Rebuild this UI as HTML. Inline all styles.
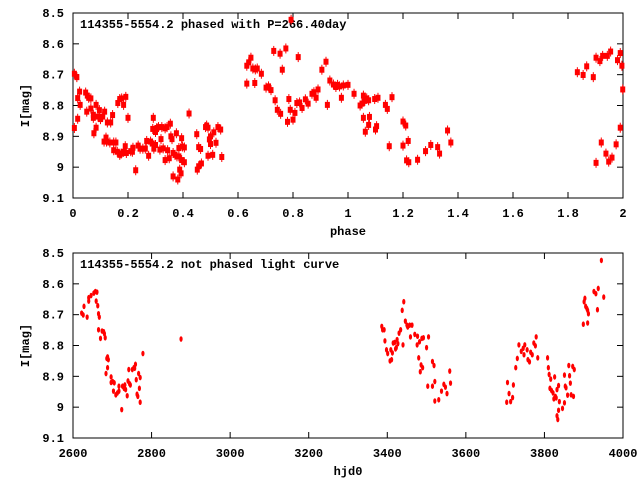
<!DOCTYPE html>
<html><head><meta charset="utf-8"><style>
body{margin:0;background:#fff}
svg text{font-family:"Liberation Mono","DejaVu Sans Mono",monospace;font-weight:bold;font-size:12px;fill:#000}
</style></head><body>
<svg id="c" width="640" height="480" xmlns="http://www.w3.org/2000/svg"></svg>
<script>
const phaseX=[0.005,0.005,0.014,0.017,0.017,0.024,0.026,0.046,0.05,0.052,0.057,0.065,0.065,0.074,0.074,0.076,0.084,0.084,0.091,0.096,0.1,0.108,0.115,0.113,0.12,0.122,0.125,0.137,0.134,0.148,0.144,0.148,0.156,0.163,0.161,0.17,0.17,0.177,0.175,0.184,0.184,0.19,0.192,0.194,0.2,0.21,0.216,0.218,0.228,0.237,0.244,0.254,0.263,0.268,0.275,0.282,0.288,0.292,0.29,0.294,0.3,0.3,0.305,0.311,0.316,0.32,0.323,0.328,0.335,0.335,0.342,0.344,0.35,0.354,0.356,0.36,0.364,0.364,0.371,0.376,0.378,0.381,0.385,0.385,0.388,0.393,0.395,0.395,0.398,0.405,0.405,0.422,0.45,0.452,0.457,0.457,0.464,0.467,0.482,0.486,0.491,0.491,0.496,0.5,0.5,0.508,0.512,0.52,0.527,0.537,0.541,
0.632,0.632,0.639,0.647,0.654,0.661,0.663,0.67,0.685,0.702,0.711,0.72,0.73,0.735,0.743,0.753,0.755,0.761,0.774,0.78,0.785,0.793,0.79,0.8,0.807,0.819,0.814,0.824,0.833,0.845,0.855,0.869,0.876,0.884,0.891,0.905,0.92,0.925,0.934,0.947,0.956,0.962,0.969,0.976,0.983,1.0,1.022,1.044,1.051,1.056,1.056,1.061,1.063,1.068,1.075,1.075,1.078,1.097,1.1,1.104,1.109,1.136,1.143,1.15,1.16,1.2,1.2,1.21,1.213,1.219,1.221,1.253,1.282,1.301,1.326,1.333,1.362,1.374,
1.834,1.855,1.868,1.892,1.902,1.902,1.916,1.921,1.926,1.938,1.943,1.948,1.955,1.96,1.975,1.98,1.99,1.99,1.996,1.999];
const phaseMag=[8.873,8.697,8.708,8.776,8.843,8.755,8.798,8.758,8.82,8.768,8.775,8.81,8.777,8.83,8.84,8.89,8.798,8.872,8.836,8.815,8.844,8.836,8.82,8.917,8.904,8.917,8.855,8.855,8.92,8.92,8.831,8.945,8.92,8.792,8.95,8.779,8.96,8.777,8.956,8.798,8.95,8.932,8.772,8.954,8.84,8.948,8.95,8.937,9.01,8.93,8.94,8.94,8.94,8.915,8.963,8.917,8.923,8.84,8.876,8.94,8.928,8.886,8.873,8.87,8.943,8.909,8.87,8.939,8.874,8.977,8.87,8.945,8.971,8.859,8.9,8.909,9.03,8.954,8.96,8.89,8.965,9.04,8.965,8.938,9.008,9.02,8.906,8.977,8.933,8.984,8.936,8.826,8.893,9.008,8.997,8.935,8.941,8.988,8.87,8.865,8.872,8.963,8.91,8.9,8.925,8.96,8.887,8.921,8.87,8.878,8.967,
8.729,8.671,8.66,8.645,8.68,8.727,8.683,8.68,8.697,8.742,8.738,8.75,8.623,8.783,8.814,8.632,8.827,8.684,8.615,8.853,8.779,8.522,8.814,8.846,8.824,8.643,8.792,8.79,8.808,8.78,8.794,8.762,8.757,8.775,8.748,8.684,8.658,8.798,8.719,8.732,8.74,8.733,8.738,8.775,8.735,8.733,8.762,8.8,8.794,8.768,8.84,8.785,8.885,8.777,8.783,8.863,8.837,8.779,8.878,8.867,8.775,8.798,8.811,8.932,8.773,8.852,8.93,8.865,8.978,8.915,8.984,8.976,8.948,8.928,8.935,8.956,8.881,8.92,
8.692,8.701,8.673,8.708,8.645,8.986,8.656,8.92,8.639,8.956,8.639,8.982,8.625,8.969,8.926,8.653,8.872,8.63,8.671,8.748];
const hjd=[2622,2626,2628,2636,2640,2640,2646,2653,2657,2659,2661,2663,2665,2667,2665,2670,2674,2678,2682,2680,2684,2686,2688,2688,2690,2697,2697,2701,2703,2705,2709,2713,2717,2717,2724,2726,2730,2732,2734,2738,2740,2742,2744,2746,2751,2755,2757,2759,2761,2763,2765,2767,2769,2771,2771,2778,2875,
3386,3388,3392,3394,3398,3401,3407,3409,3411,3413,3415,3419,3421,3423,3425,3427,3430,3434,3438,3440,3442,3446,3450,3452,3457,3459,3463,3470,3476,3477,3480,3482,3484,3486,3488,3490,3492,3500,3503,3505,3515,3515,3521,3519,3521,3531,3538,3544,3548,3552,3559,3561,
3704,3706,3710,3714,3719,3721,3727,3731,3735,3741,3746,3748,3750,3756,3758,3762,3765,3769,3773,3777,3779,3783,3808,3810,3812,3814,3816,3818,3822,3824,3826,3828,3830,3832,3832,3834,3836,3836,3838,3846,3851,3851,3853,3855,3859,3862,3864,3866,3868,3872,3874,3876,3899,3901,3903,3905,3908,3910,3912,3910,3926,3931,3935,3937,3945,3951];
const hjdMag=[8.695,8.701,8.673,8.708,8.645,8.656,8.638,8.63,8.625,8.656,8.627,8.671,8.697,8.708,8.749,8.777,8.753,8.755,8.775,8.762,8.891,8.842,8.837,8.872,8.846,8.902,8.92,8.917,8.948,8.921,8.96,8.954,8.948,8.932,9.008,8.932,8.939,8.928,8.943,8.963,8.915,8.878,8.924,8.928,8.878,8.872,8.874,8.861,8.911,8.958,8.965,8.891,8.939,8.904,8.984,8.826,8.779,
8.738,8.749,8.749,8.785,8.814,8.826,8.85,8.814,8.846,8.824,8.792,8.79,8.811,8.807,8.781,8.794,8.76,8.749,8.686,8.798,8.658,8.721,8.734,8.74,8.734,8.772,8.734,8.764,8.798,8.77,8.84,8.788,8.885,8.863,8.777,8.872,8.775,8.807,8.932,8.772,8.852,8.932,8.98,8.865,8.917,8.976,8.948,8.926,8.935,8.956,8.883,8.922,
8.984,8.92,8.956,8.982,8.969,8.928,8.872,8.842,8.798,8.819,8.809,8.83,8.798,8.814,8.846,8.853,8.822,8.83,8.792,8.801,8.772,8.84,8.84,8.872,8.894,8.939,8.909,8.946,8.954,8.973,8.902,8.965,8.97,9.028,8.943,9.04,9.01,8.93,8.982,9.004,8.896,8.986,8.932,8.937,8.961,8.865,8.898,8.922,8.96,8.868,8.965,8.878,8.731,8.658,8.647,8.673,8.68,8.686,8.697,8.727,8.625,8.632,8.684,8.615,8.524,8.643];
const yTicks=["8.5","8.6","8.7","8.8","8.9","9","9.1"];
const phaseTicks=["0","0.2","0.4","0.6","0.8","1","1.2","1.4","1.6","1.8","2"];
const hjdTicks=["2600","2800","3000","3200","3400","3600","3800","4000"];

const svg=document.getElementById('c');
const NS="http://www.w3.org/2000/svg";
function mk(tag,attrs,parent){const e=document.createElementNS(NS,tag);for(const k in attrs)e.setAttribute(k,attrs[k]);(parent||svg).appendChild(e);return e;}

function panel(cfg){
  const {L,R,T,B,x0,x1,xt,title,xtitle,xs,ys,marker,pname}=cfg;
  const g=mk('g',{});
  
  
  const sx=v=>L+(v-x0)/(x1-x0)*(R-L);
  const sy=v=>T+(v-8.5)/0.6*(B-T);
  const fr=mk('rect',{x:L,y:T,width:R-L,height:B-T,fill:'none',stroke:'#000','stroke-width':1},g);
  
  
  yTicks.forEach(t=>{const v=parseFloat(t),y=sy(v);
    mk('line',{x1:L,x2:L+6,y1:y,y2:y,stroke:'#000'},g);mk('line',{x1:R,x2:R-6,y1:y,y2:y,stroke:'#000'},g);
    const tx=mk('text',{x:L-9,y:y+4,'text-anchor':'end'},g);tx.textContent=t;
    
    });
  xt.forEach(t=>{const v=parseFloat(t),x=sx(v);
    mk('line',{x1:x,x2:x,y1:B,y2:B-6,stroke:'#000'},g);mk('line',{x1:x,x2:x,y1:T,y2:T+6,stroke:'#000'},g);
    const tx=mk('text',{x:x,y:B+19,'text-anchor':'middle'},g);tx.textContent=t;
    
    });
  const ti=mk('text',{x:L+7,y:T+15},g);ti.textContent=title;
  
  
  const xl=mk('text',{x:(L+R)/2,y:B+37,'text-anchor':'middle'},g);xl.textContent=xtitle;
  
  
  const cy=(T+B)/2;
  const yl=mk('text',{x:29,y:cy,'text-anchor':'middle',transform:`rotate(-90 29 ${cy})`},g);yl.textContent='I[mag]';
  
  
  xs.forEach((v,i)=>{const x=sx(v),y=sy(ys[i]);let m;
    if(marker==='sq'){mk('line',{x1:x,x2:x,y1:y-5,y2:y+5,stroke:'#f00'},g);m=mk('rect',{x:x-2.5,y:y-3,width:5,height:6,fill:'#f00'},g);}
    else{m=mk('ellipse',{cx:x,cy:y,rx:1.6,ry:2.8,fill:'#f00'},g);}
    
    });
}
panel({L:73,R:623,T:13,B:198,x0:0,x1:2,xt:phaseTicks,title:'114355-5554.2 phased with P=266.40day',xtitle:'phase',xs:phaseX,ys:phaseMag,marker:'sq',pname:'phased-plot'});
panel({L:73,R:623,T:253,B:438,x0:2600,x1:4000,xt:hjdTicks,title:'114355-5554.2 not phased light curve',xtitle:'hjd0',xs:hjd,ys:hjdMag,marker:'el',pname:'lightcurve-plot'});
</script>
</body></html>
